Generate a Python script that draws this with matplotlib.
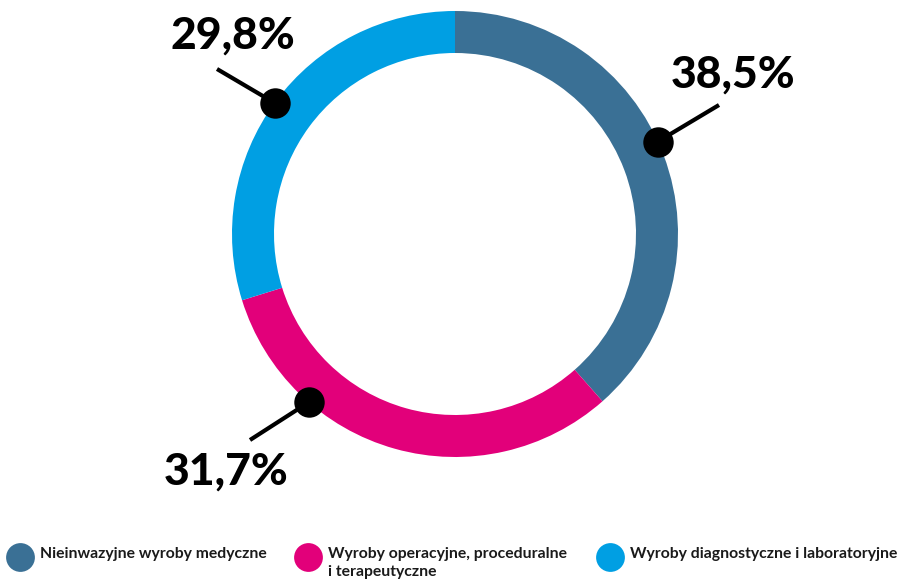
import numpy as np
import matplotlib.pyplot as plt

# udziały kategorii wyrobów medycznych
kategorie = ["Nieinwazyjne wyroby medyczne",
             "Wyroby operacyjne, proceduralne\ni terapeutyczne",
             "Wyroby diagnostyczne i laboratoryjne"]
udzialy = [38.5, 31.7, 29.8]
etykiety = ["38,5%", "31,7%", "29,8%"]
kolory = ["#3a7095", "#e2007a", "#009fe3"]

W, H = 899, 585
CX, CY = 455, H - 234
R, SZER = 223, 42

fig = plt.figure(figsize=(W / 100, H / 100), dpi=100)
ax = fig.add_axes([0, 0, 1, 1])

ax.pie(udzialy, colors=kolory, startangle=90, counterclock=False,
       center=(CX, CY), radius=R,
       wedgeprops=dict(width=SZER, linewidth=0))

# kropki na obwodzie, linia prowadząca i wartość
kat_kropki = [24.5, 229, 144]
koniec_linii = [(719, 105), (250, 440), (217, 69)]
poz_tekstu = [(733, 75), (226, 472), (233, 36)]
for kat, (lx, ly), (tx, ty), txt in zip(kat_kropki, koniec_linii, poz_tekstu, etykiety):
    a = np.radians(kat)
    dx, dy = CX + R * np.cos(a), CY + R * np.sin(a)
    ax.plot([dx, lx], [dy, H - ly], color="black", lw=3, solid_capstyle="butt", zorder=3)
    ax.scatter([dx], [dy], s=480, color="black", zorder=4, linewidths=0)
    ax.text(tx, H - ty, txt, fontsize=32, fontweight="black", family="Lato",
            ha="center", va="center", color="black")

# legenda
leg_x = [20, 308, 610]
for x, k, c in zip(leg_x, kategorie, kolory):
    ax.scatter([x], [H - 557], s=430, color=c, linewidths=0)
    ax.text(x + 20, H - 547, k, fontsize=11.3, fontweight="bold", family="Lato",
            ha="left", va="top", color="#1a1a1a", linespacing=1.35)

ax.set_xlim(0, W)
ax.set_ylim(0, H)
ax.set_aspect("auto")
ax.axis("off")

fig.savefig("out.png", dpi=100, facecolor="white")
